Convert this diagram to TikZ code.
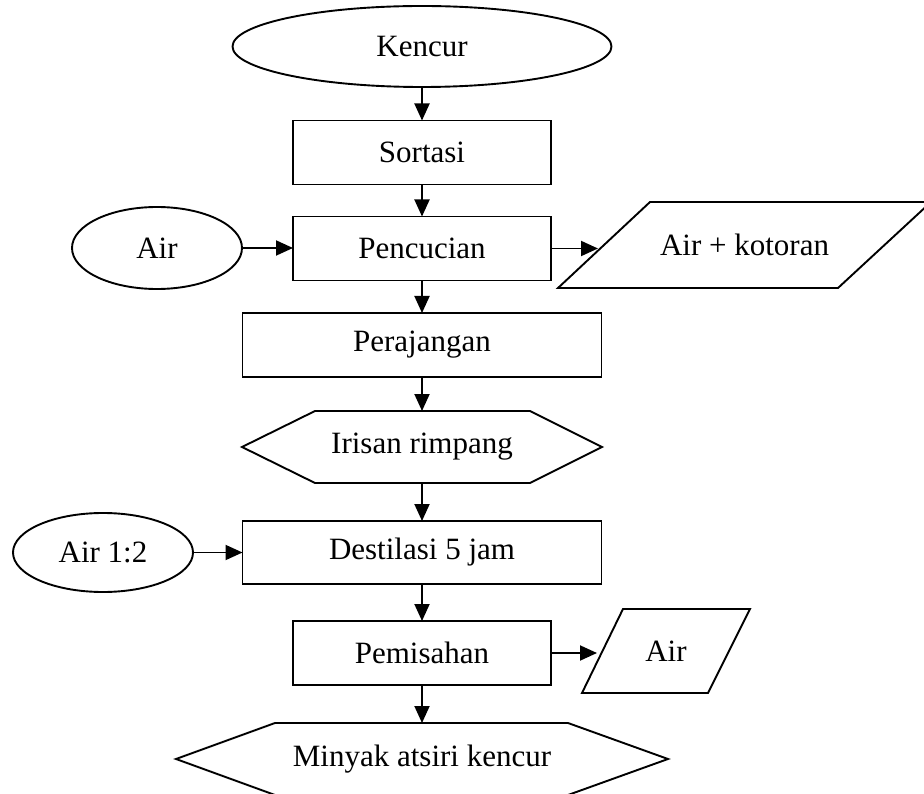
\documentclass[tikz,border=0pt]{standalone}
\usepackage{fontspec}
\setmainfont{Liberation Serif}
\usetikzlibrary{shapes.geometric,arrows.meta,calc}
\begin{document}
\begin{tikzpicture}[x=1pt,y=-1pt,
  every node/.style={font=\fontsize{31}{37}\selectfont, inner sep=0pt, outer sep=0pt},
  procbox/.style={draw, line width=1.9pt, rectangle, minimum height=64},
  ellip/.style={draw, line width=1.9pt, ellipse},
  plainbox/.style={rectangle},
  shapeline/.style={line width=1.9pt, line join=miter},
  arr/.style={line width=1.9pt, -{Triangle[length=17pt,width=15pt]}}]
\useasboundingbox (0,0) rectangle (924,794);

\node[ellip, minimum width=379, minimum height=81] (ke) at (422,46.5) {Kencur};
\node[procbox, minimum width=258] (so) at (422,152.5) {Sortasi};
\node[procbox, minimum width=258] (pc) at (422,248.5) {Pencucian};
\node[ellip, minimum width=170, minimum height=82] (a1) at (157,248) {Air};
\node[plainbox, minimum width=373, minimum height=86] (ak) at (744.5,245) {Air + kotoran};
\node[procbox, minimum width=359] (pr) at (422,345) {Perajangan};
\node[plainbox, minimum width=360, minimum height=72] (ir) at (422,447) {Irisan rimpang};
\node[procbox, minimum width=359, minimum height=63] (de) at (422,552.5) {Destilasi 5 jam};
\node[ellip, minimum width=180, minimum height=79] (a2) at (103,552.5) {Air 1:2};
\node[procbox, minimum width=258] (pm) at (422,653) {Pemisahan};
\node[plainbox, minimum width=168, minimum height=84] (ap) at (666,651) {Air};
\node[plainbox, minimum width=492, minimum height=72] (mk) at (422,759) {Minyak atsiri kencur};

% outlines of the data / output shapes
\draw[shapeline] (ak.south west) -- ($(ak.south east)+(-93,0)$) -- (ak.north east) -- ($(ak.north west)+(92,0)$) -- cycle;
\draw[shapeline] (ap.south west) -- ($(ap.south east)+(-42,0)$) -- (ap.north east) -- ($(ap.north west)+(41,0)$) -- cycle;
\draw[shapeline] (ir.west) -- ($(ir.north west)+(73,0)$) -- ($(ir.north east)+(-72,0)$) -- (ir.east)
  -- ($(ir.south east)+(-72,0)$) -- ($(ir.south west)+(73,0)$) -- cycle;
\draw[shapeline] (mk.west) -- ($(mk.north west)+(99,0)$) -- ($(mk.north east)+(-100,0)$) -- (mk.east)
  -- ($(mk.south east)+(-100,0)$) -- ($(mk.south west)+(99,0)$) -- cycle;

\coordinate (akl) at ($(ak.west)+(40,0)$);
\coordinate (apl) at ($(ap.west)+(15,0)$);

% main flow
\draw[arr] (ke.south) -- (so.north);
\draw[arr] (so.south) -- (pc.north);
\draw[arr] (pc.south) -- (pr.north);
\draw[arr] (pr.south) -- (ir.north);
\draw[arr] (ir.south) -- (de.north);
\draw[arr] (de.south) -- (pm.north);
\draw[arr] (pm.south) -- (mk.north);

% side flows
\draw[arr] (a1.east) -- (a1.east -| pc.west);
\draw[arr] (pc.east) -- (pc.east -| akl);
\draw[arr] (a2.east) -- (a2.east -| de.west);
\draw[arr] (pm.east) -- (pm.east -| apl);
\end{tikzpicture}
\end{document}
